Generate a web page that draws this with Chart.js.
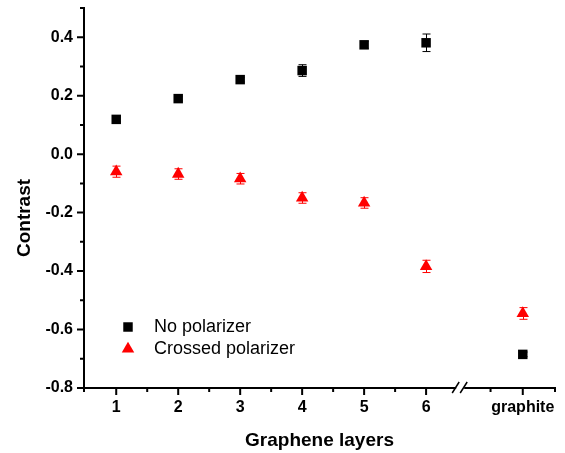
<!DOCTYPE html>
<html>
<head>
<meta charset="utf-8">
<script src="https://cdn.jsdelivr.net/npm/chart.js@4.4.1/dist/chart.umd.min.js"></script>
<style>
  html, body { margin: 0; padding: 0; background: #fff; }
</style>
</head>
<body>
<canvas id="c" width="565" height="453"></canvas>
<script>
// graphene layer count (graphite sits past the axis break)
const layers = ['1', '2', '3', '4', '5', '6', 'graphite'];
const layerX = [1, 2, 3, 4, 5, 6, 7.56];

const noPol = [0.119, 0.190, 0.255, 0.286, 0.374, 0.381, -0.685];
const noPolErr = [0.008, 0.008, 0.008, 0.02, 0.012, 0.03, 0.008];
const crossPol = [-0.060, -0.068, -0.084, -0.150, -0.167, -0.384, -0.545];
const crossPolErr = [0.019, 0.018, 0.018, 0.018, 0.018, 0.021, 0.02];

const xTicks = [0.48, 1, 1.5, 2, 2.5, 3, 3.5, 4, 4.5, 5, 5.5, 6, 7.04, 7.56, 8.08];
const breakAt = 6.55;

const FONT = '"Liberation Sans", Arial, sans-serif';

function xLabel(v) {
  const i = layerX.indexOf(v);
  return i >= 0 ? layers[i] : '';
}
function isMajorY(v) {
  const k = Math.round(v * 10);
  return k % 2 === 0 && k <= 4;
}

const errorBars = {
  id: 'errorBars',
  beforeDatasetsDraw(chart) {
    const {ctx, scales: {x, y}} = chart;
    chart.data.datasets.forEach(ds => {
      ctx.save();
      ctx.strokeStyle = ds.backgroundColor;
      ctx.lineWidth = 1;
      ctx.beginPath();
      ds.data.forEach((p, j) => {
        const e = ds.errors[j];
        const px = Math.round(x.getPixelForValue(p.x)) + 0.5;
        const top = y.getPixelForValue(p.y + e);
        const bot = y.getPixelForValue(p.y - e);
        ctx.moveTo(px, top); ctx.lineTo(px, bot);
        ctx.moveTo(px - 4, top); ctx.lineTo(px + 4, top);
        ctx.moveTo(px - 4, bot); ctx.lineTo(px + 4, bot);
      });
      ctx.stroke();
      ctx.restore();
    });
  }
};

const axisDecor = {
  id: 'axisDecor',
  afterDraw(chart) {
    const {ctx, chartArea: a, scales: {x, y}} = chart;
    ctx.save();
    ctx.strokeStyle = '#000';
    ctx.lineWidth = 2;
    ctx.beginPath();
    x.ticks.forEach(t => {
      const px = x.getPixelForValue(t.value);
      const len = xLabel(t.value) ? 7 : 4;
      ctx.moveTo(px, a.bottom); ctx.lineTo(px, a.bottom + len);
    });
    y.ticks.forEach(t => {
      const py = y.getPixelForValue(t.value);
      const len = isMajorY(t.value) ? 7 : 4;
      ctx.moveTo(a.left, py); ctx.lineTo(a.left - len, py);
    });
    ctx.stroke();

    // axis break
    const bx = x.getPixelForValue(breakAt);
    ctx.fillStyle = '#fff';
    ctx.fillRect(bx - 4, a.bottom - 3, 8, 6);
    ctx.lineWidth = 1.5;
    ctx.beginPath();
    ctx.moveTo(bx - 8, a.bottom + 5); ctx.lineTo(bx - 1, a.bottom - 6);
    ctx.moveTo(bx, a.bottom + 5); ctx.lineTo(bx + 7, a.bottom - 6);
    ctx.stroke();

    // y title
    ctx.save();
    ctx.translate(25, 218);
    ctx.rotate(-Math.PI / 2);
    ctx.fillStyle = '#000';
    ctx.font = 'bold 19px ' + FONT;
    ctx.textAlign = 'center';
    ctx.textBaseline = 'middle';
    ctx.fillText('Contrast', 0, 0);
    ctx.restore();

    // legend
    chart.data.datasets.forEach((ds, i) => {
      const cx = a.left + 44;
      const cy = a.bottom - 61 + i * 22;
      ctx.fillStyle = ds.backgroundColor;
      Chart.helpers.drawPoint(ctx, {
        pointStyle: ds.pointStyle, radius: ds.pointRadius, borderWidth: 0, rotation: 0
      }, cx, cy);
      ctx.fillStyle = '#000';
      ctx.font = '18px ' + FONT;
      ctx.textAlign = 'left';
      ctx.textBaseline = 'middle';
      ctx.fillText(ds.label, cx + 26, cy);
    });
    ctx.restore();
  }
};

new Chart(document.getElementById('c'), {
  type: 'scatter',
  data: {
    datasets: [{
      label: 'No polarizer',
      data: layerX.map((v, i) => ({x: v, y: noPol[i]})),
      errors: noPolErr,
      backgroundColor: '#000000',
      borderColor: '#000000',
      pointStyle: 'rect',
      pointRadius: 6.7,
      pointBorderWidth: 0
    }, {
      label: 'Crossed polarizer',
      data: layerX.map((v, i) => ({x: v, y: crossPol[i]})),
      errors: crossPolErr,
      backgroundColor: '#ff0000',
      borderColor: '#ff0000',
      pointStyle: 'triangle',
      pointRadius: 7.2,
      pointBorderWidth: 0
    }]
  },
  options: {
    responsive: false,
    animation: false,
    clip: false,
    layout: { padding: { top: 8, right: 10, left: 0, bottom: 0 } },
    plugins: {
      legend: { display: false },
      tooltip: { enabled: false }
    },
    scales: {
      x: {
        type: 'linear',
        min: 0.48,
        max: 8.08,
        afterFit(scale) {
          scale.height = 65;
          scale.paddingLeft = 0;
          scale.paddingRight = 0;
        },
        afterBuildTicks(scale) { scale.ticks = xTicks.map(v => ({value: v})); },
        grid: { display: false, drawTicks: false },
        border: { display: true, color: '#000', width: 2 },
        ticks: {
          autoSkip: false,
          maxRotation: 0,
          padding: 10,
          color: '#000',
          font: { family: FONT, size: 16, weight: 'bold' },
          callback: v => xLabel(v)
        },
        title: {
          display: true,
          text: 'Graphene layers',
          color: '#000',
          font: { family: FONT, size: 19, weight: 'bold' },
          padding: { top: 0, bottom: 1 }
        }
      },
      y: {
        min: -0.8,
        max: 0.5,
        afterFit(scale) {
          scale.width = 84;
          scale.paddingTop = 0;
          scale.paddingBottom = 0;
        },
        grid: { display: false, drawTicks: false },
        border: { display: true, color: '#000', width: 2 },
        ticks: {
          stepSize: 0.1,
          padding: 11,
          color: '#000',
          font: { family: FONT, size: 16, weight: 'bold' },
          callback: v => isMajorY(v) ? v.toFixed(1) : ''
        }
      }
    }
  },
  plugins: [errorBars, axisDecor]
});
</script>
</body>
</html>
